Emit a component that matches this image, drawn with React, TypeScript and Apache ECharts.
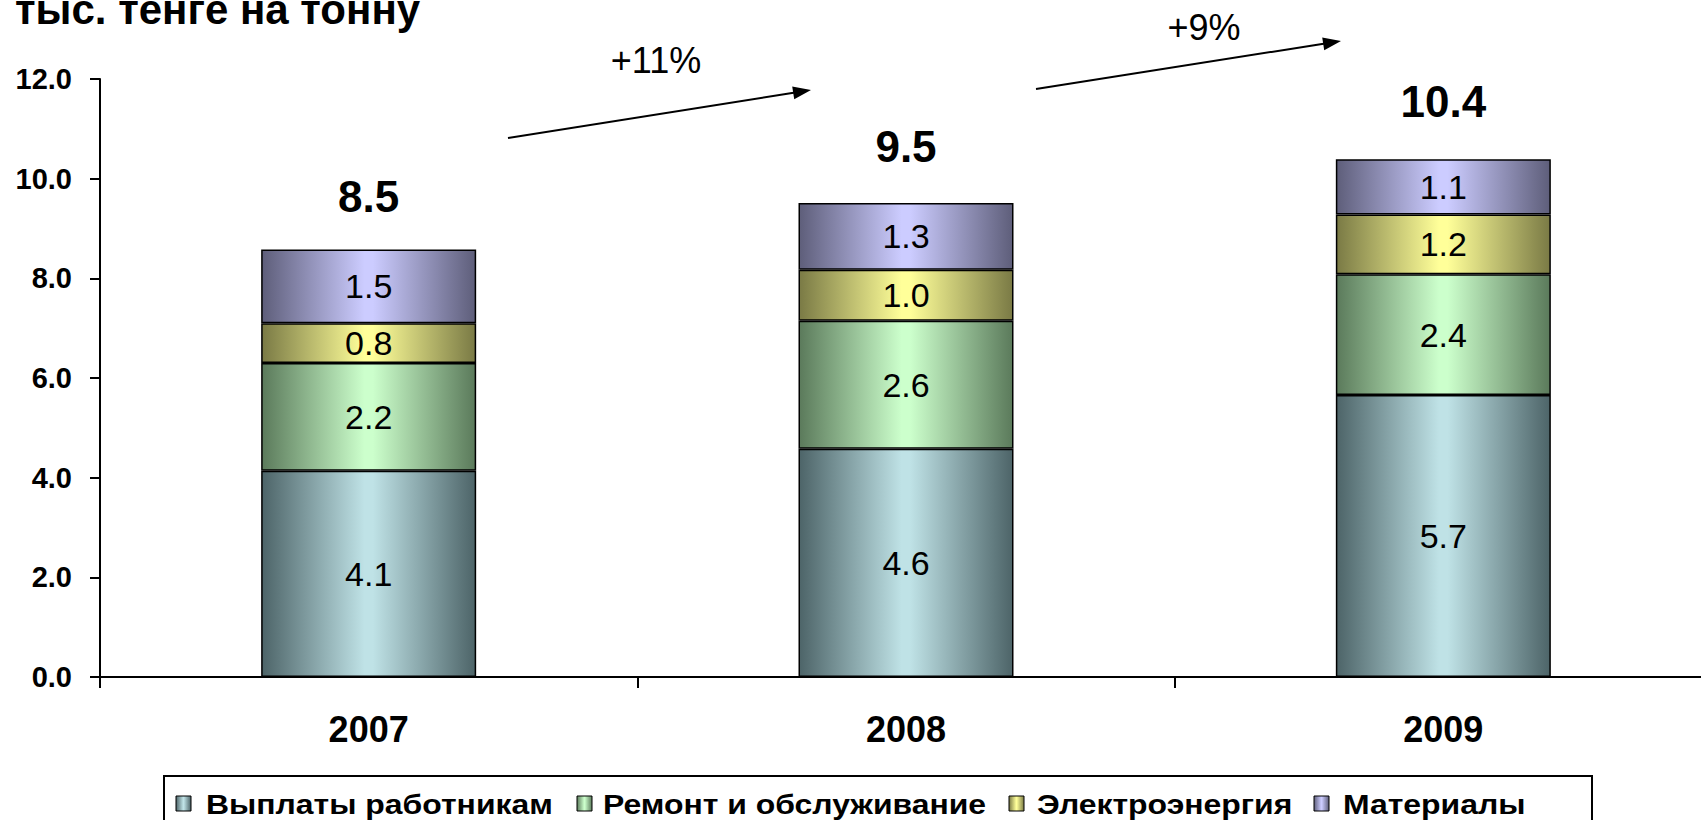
import React, { useEffect, useRef } from "react";
import * as echarts from "echarts";

const categories = ["2007", "2008", "2009"];
const employees = [4.14, 4.58, 5.66];
const repair = [2.16, 2.57, 2.42];
const electricity = [0.8, 1.02, 1.2];
const materials = [1.48, 1.34, 1.11];
const totals = [8.5, 9.5, 10.4];
const seriesNames = ["Выплаты работникам", "Ремонт и обслуживание", "Электроэнергия", "Материалы"];
const growthLabels = ["+11%", "+9%"];
const unitTitle = "тыс. тенге на тонну";

const FONT = "'Liberation Sans', Arial, sans-serif";

function grad(dark: string, light: string) {
  return new echarts.graphic.LinearGradient(0, 0, 1, 0, [
    { offset: 0, color: dark },
    { offset: 0.48, color: light },
    { offset: 0.52, color: light },
    { offset: 1, color: dark },
  ]);
}

const palette = [
  ["#4d6468", "#bfe2e6"],
  ["#5b7a5b", "#ccffcc"],
  ["#7a7a45", "#ffff99"],
  ["#5e5e7a", "#ccccff"],
];

// legend layout (pixels)
const legendIconX = [176, 577, 1009, 1314];
const legendTextX = [206, 603, 1037, 1343];

function arrow(x1: number, y1: number, x2: number, y2: number) {
  const dx = x2 - x1;
  const dy = y2 - y1;
  const len = Math.sqrt(dx * dx + dy * dy);
  const ux = dx / len;
  const uy = dy / len;
  const nx = -uy;
  const ny = ux;
  const hl = 18;
  const hw = 6.5;
  const bx = x2 - ux * hl;
  const by = y2 - uy * hl;
  return [
    {
      type: "line",
      shape: { x1, y1, x2: bx + ux * 2, y2: by + uy * 2 },
      style: { stroke: "#000", lineWidth: 2 },
    },
    {
      type: "polygon",
      shape: {
        points: [
          [x2, y2],
          [bx + nx * hw, by + ny * hw],
          [bx - nx * hw, by - ny * hw],
        ],
      },
      style: { fill: "#000" },
    },
  ];
}

export default function App() {
  const ref = useRef<HTMLDivElement>(null);
  useEffect(() => {
    if (!ref.current) return;
    const chart = echarts.init(ref.current, undefined, { renderer: "svg" });
    const dataSets = [employees, repair, electricity, materials];
    const barSeries = dataSets.map((d, i) => ({
      name: seriesNames[i],
      type: "bar",
      stack: "total",
      barWidth: 215,
      data: d,
      itemStyle: {
        color: grad(palette[i][0], palette[i][1]),
        borderColor: "#000",
        borderWidth: 1.5,
      },
      label: {
        show: true,
        position: "inside",
        formatter: (p: any) => Number(p.value).toFixed(1),
        fontSize: 34,
        color: "#000",
        fontFamily: FONT,
      },
      emphasis: { disabled: true },
    }));

    const legendGraphics: any[] = [];
    seriesNames.forEach((name, i) => {
      legendGraphics.push({
        type: "rect",
        shape: { x: legendIconX[i], y: 796, width: 15, height: 15 },
        style: { fill: grad(palette[i][0], palette[i][1]), stroke: "#000", lineWidth: 1 },
      });
      legendGraphics.push({
        type: "text",
        x: legendTextX[i],
        y: 804,
        scaleX: 1.14,
        style: {
          x: 0,
          y: 0,
          text: name,
          fontSize: 28,
          fontWeight: "bold",
          fill: "#000",
          fontFamily: FONT,
          textAlign: "left",
          textVerticalAlign: "middle",
        },
      });
    });

    chart.setOption({
      animation: false,
      backgroundColor: "#fff",
      grid: { left: 100, top: 79, width: 1612, height: 598, containLabel: false },
      xAxis: {
        type: "category",
        data: categories,
        axisLine: { lineStyle: { color: "#000", width: 2 } },
        axisTick: { show: true, length: 11, lineStyle: { color: "#000", width: 2 } },
        axisLabel: { fontSize: 36, fontWeight: "bold", color: "#000", margin: 34, fontFamily: FONT },
      },
      yAxis: {
        type: "value",
        min: 0,
        max: 12,
        interval: 2,
        splitLine: { show: false },
        axisLine: { show: true, lineStyle: { color: "#000", width: 2 } },
        axisTick: { show: true, length: 10, lineStyle: { color: "#000", width: 2 } },
        axisLabel: {
          fontSize: 29,
          fontWeight: "bold",
          color: "#000",
          margin: 28,
          fontFamily: FONT,
          formatter: (v: number) => v.toFixed(1),
        },
      },
      series: [
        ...barSeries,
        {
          name: "totals",
          type: "scatter",
          symbolSize: 0,
          data: totals,
          itemStyle: { opacity: 1 },
          label: {
            show: true,
            position: "top",
            distance: 35,
            formatter: (p: any) => Number(p.value).toFixed(1),
            fontSize: 44,
            fontWeight: "bold",
            color: "#000",
            opacity: 1,
            fontFamily: FONT,
          },
          emphasis: { disabled: true },
        },
      ],
      graphic: [
        {
          type: "text",
          x: 15,
          y: -12,
          style: { x: 0, y: 0, text: unitTitle, fontSize: 42, fontWeight: "bold", fill: "#000", fontFamily: FONT, textAlign: "left", textVerticalAlign: "top" },
        },
        {
          type: "rect",
          shape: { x: 164, y: 776, width: 1428, height: 60 },
          style: { fill: "none", stroke: "#000", lineWidth: 2 },
          z: 10,
        },
        ...legendGraphics,
        ...arrow(508, 138, 811, 90),
        ...arrow(1036, 89, 1341, 41),
        {
          type: "text",
          x: 656,
          y: 60,
          style: { x: 0, y: 0, text: growthLabels[0], fontSize: 36, fill: "#000", fontFamily: FONT, textAlign: "center", textVerticalAlign: "middle" },
        },
        {
          type: "text",
          x: 1204,
          y: 27,
          style: { x: 0, y: 0, text: growthLabels[1], fontSize: 36, fill: "#000", fontFamily: FONT, textAlign: "center", textVerticalAlign: "middle" },
        },
      ],
    });
    return () => chart.dispose();
  }, []);
  return (
    <div style={{ position: "absolute", left: 0, top: 0, width: 1701, height: 820, overflow: "hidden", background: "#fff" }}>
      <div ref={ref} style={{ width: 1720, height: 820 }} />
    </div>
  );
}
